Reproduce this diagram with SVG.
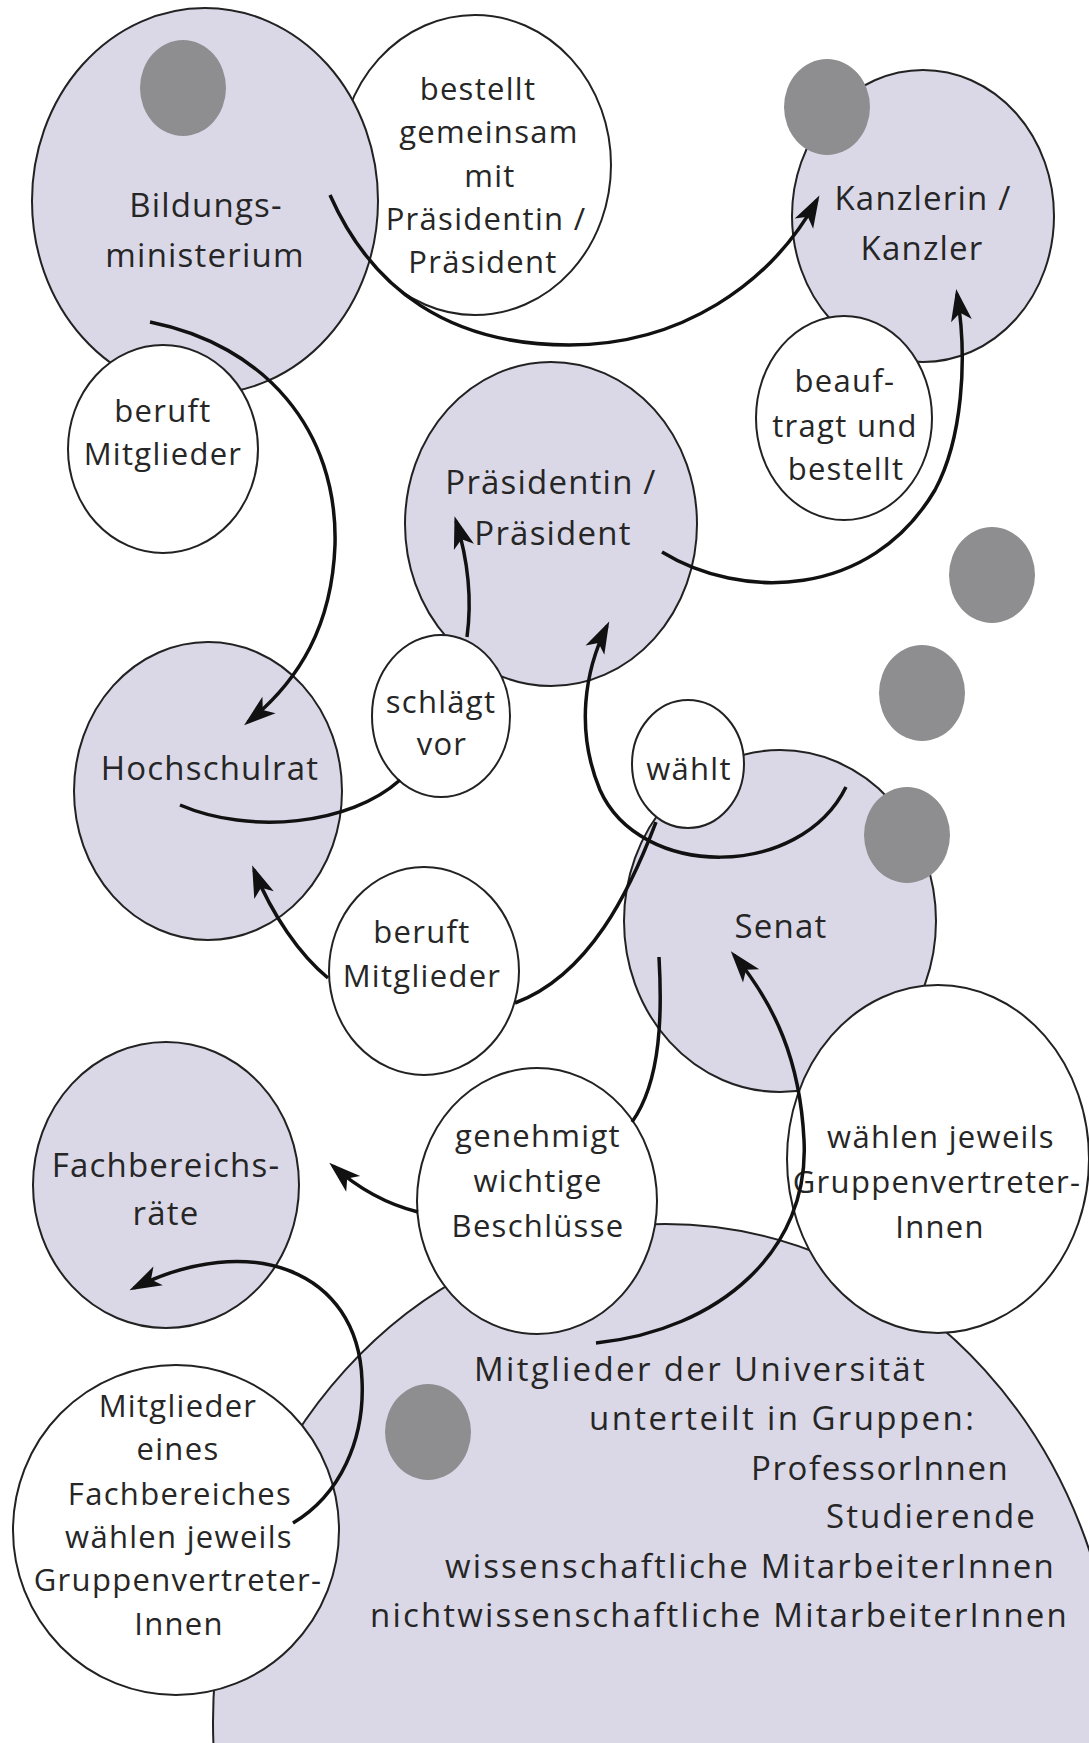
<svg xmlns="http://www.w3.org/2000/svg" width="1089" height="1743" viewBox="0 0 1089 1743">
<defs>
<style>
.g{fill:#dad8e7;stroke:#222;stroke-width:2}
.w{fill:#ffffff;stroke:#222;stroke-width:2}
.d{fill:#8e8e90}
.t{font-family:"Open Sans","Noto Sans",sans-serif;fill:#262626;text-anchor:middle}
.tg{font-size:33px;letter-spacing:1.2px}
.tw{font-size:31px;letter-spacing:1.3px}
.c{fill:none;stroke:#111;stroke-width:3.5}
</style>
<marker id="ah" markerUnits="userSpaceOnUse" markerWidth="40" markerHeight="30" viewBox="-30 -15 40 30" refX="0" refY="0" orient="auto">
<path d="M5,0 L-27,-10.5 L-19,0 L-27,10.5 Z" fill="#111"/>
</marker>
</defs>
<rect x="0" y="0" width="1089" height="1743" fill="#ffffff"/>

<g id="n-bestellt">
<ellipse class="w" cx="475" cy="165" rx="136" ry="150"/>
<text class="t tw" x="478" y="100">bestellt</text>
<text class="t tw" x="489" y="143">gemeinsam</text>
<text class="t tw" x="490" y="187">mit</text>
<text class="t tw" x="486" y="230">Präsidentin /</text>
<text class="t tw" x="483" y="273">Präsident</text>
</g>

<g id="n-bildungsministerium">
<ellipse class="g" cx="205" cy="201" rx="173" ry="193"/>
<ellipse class="d" cx="183" cy="88" rx="43" ry="48"/>
<text class="t tg" x="206" y="217">Bildungs-</text>
<text class="t tg" x="205" y="267">ministerium</text>
</g>

<g id="n-beruft-1">
<ellipse class="w" cx="163" cy="449" rx="95" ry="104"/>
<text class="t tw" x="163" y="422">beruft</text>
<text class="t tw" x="163" y="465">Mitglieder</text>
</g>

<g id="n-kanzler">
<ellipse class="g" cx="923" cy="216" rx="131" ry="146"/>
<ellipse class="d" cx="827" cy="107" rx="43" ry="48"/>
<text class="t tg" x="923" y="210">Kanzlerin /</text>
<text class="t tg" x="922" y="260">Kanzler</text>
</g>

<g id="n-beauftragt">
<ellipse class="w" cx="844" cy="418" rx="88" ry="102"/>
<text class="t tw" x="845" y="392">beauf-</text>
<text class="t tw" x="845" y="437">tragt und</text>
<text class="t tw" x="846" y="480">bestellt</text>
</g>

<g id="n-praesident">
<ellipse class="g" cx="551" cy="524" rx="146" ry="162"/>
<text class="t tg" x="551" y="494">Präsidentin /</text>
<text class="t tg" x="553" y="545">Präsident</text>
</g>

<g id="n-schlaegt">
<ellipse class="w" cx="441" cy="716" rx="69" ry="81"/>
<text class="t tw" x="441" y="713">schlägt</text>
<text class="t tw" x="442" y="755">vor</text>
</g>

<g id="n-hochschulrat">
<ellipse class="g" cx="208" cy="791" rx="134" ry="149"/>
<text class="t tg" x="210" y="780">Hochschulrat</text>
</g>

<g id="n-senat">
<ellipse class="g" cx="780" cy="921" rx="156" ry="171"/>
<text class="t tg" x="781" y="938">Senat</text>
</g>

<g id="n-waehlt">
<ellipse class="w" cx="688" cy="764" rx="56" ry="64"/>
<text class="t tw" x="689" y="780">wählt</text>
</g>

<g id="dots">
<ellipse class="d" cx="992" cy="575" rx="43" ry="48"/>
<ellipse class="d" cx="922" cy="693" rx="43" ry="48"/>
<ellipse class="d" cx="907" cy="835" rx="43" ry="48"/>
</g>

<g id="n-mitglieder-universitaet">
<ellipse class="g" cx="665" cy="1722" rx="452" ry="498"/>
<ellipse class="d" cx="428" cy="1432" rx="43" ry="48"/>
<text class="t tg" x="700" y="1381" textLength="452" lengthAdjust="spacing">Mitglieder der Universität</text>
<text class="t tg" x="782" y="1430" textLength="386" lengthAdjust="spacing">unterteilt in Gruppen:</text>
<text class="t tg" x="880" y="1480" textLength="258" lengthAdjust="spacing">ProfessorInnen</text>
<text class="t tg" x="931" y="1528" textLength="210" lengthAdjust="spacing">Studierende</text>
<text class="t tg" x="750" y="1578" textLength="610" lengthAdjust="spacing">wissenschaftliche MitarbeiterInnen</text>
<text class="t tg" x="719" y="1627" textLength="698" lengthAdjust="spacing">nichtwissenschaftliche MitarbeiterInnen</text>
</g>

<g id="n-genehmigt">
<ellipse class="w" cx="537" cy="1201" rx="120" ry="133"/>
<text class="t tw" x="538" y="1147">genehmigt</text>
<text class="t tw" x="538" y="1192">wichtige</text>
<text class="t tw" x="538" y="1237">Beschlüsse</text>
</g>

<g id="n-waehlen">
<ellipse class="w" cx="938" cy="1159" rx="151" ry="174"/>
<text class="t tw" x="941" y="1148">wählen jeweils</text>
<text class="t tw" x="937" y="1193">Gruppenvertreter-</text>
<text class="t tw" x="940" y="1238">Innen</text>
</g>

<g id="n-beruft-2">
<ellipse class="w" cx="424" cy="971" rx="95" ry="104"/>
<text class="t tw" x="422" y="943">beruft</text>
<text class="t tw" x="422" y="987">Mitglieder</text>
</g>

<g id="n-fachbereichsraete">
<ellipse class="g" cx="166" cy="1185" rx="133" ry="143"/>
<text class="t tg" x="166" y="1177">Fachbereichs-</text>
<text class="t tg" x="166" y="1225">räte</text>
</g>

<g id="n-mitglieder-fachbereich">
<ellipse class="w" cx="176" cy="1530" rx="163" ry="165"/>
<text class="t tw" x="178" y="1417">Mitglieder</text>
<text class="t tw" x="178" y="1460">eines</text>
<text class="t tw" x="180" y="1505">Fachbereiches</text>
<text class="t tw" x="179" y="1548">wählen jeweils</text>
<text class="t tw" x="178" y="1591">Gruppenvertreter-</text>
<text class="t tw" x="179" y="1635">Innen</text>
</g>

<g id="connectors">
<path class="c" d="M330,195 C372,290 450,345 569,345 C680,345 770,285 817,200" marker-end="url(#ah)"/>
<path class="c" d="M662,552 C740,600 870,600 935,490 C962,440 968,360 957,294" marker-end="url(#ah)"/>
<path class="c" d="M150,322 C265,345 338,430 335,545 C332,625 300,680 248,722" marker-end="url(#ah)"/>
<path class="c" d="M180,805 C250,835 350,825 400,780"/>
<path class="c" d="M467,637 C472,600 468,560 456,521" marker-end="url(#ah)"/>
<path class="c" d="M846,787 C800,880 640,880 600,790 C575,730 585,670 607,626" marker-end="url(#ah)"/>
<path class="c" d="M656,822 C630,890 590,975 515,1003"/>
<path class="c" d="M328,978 C300,955 272,915 254,870" marker-end="url(#ah)"/>
<path class="c" d="M659,957 C662,1010 662,1080 632,1122"/>
<path class="c" d="M418,1212 C390,1205 360,1190 333,1166" marker-end="url(#ah)"/>
<path class="c" d="M596,1343 C720,1330 810,1250 804,1140 C800,1060 775,1005 734,955" marker-end="url(#ah)"/>
<path class="c" d="M293,1523 C340,1495 365,1440 362,1380 C358,1270 250,1230 134,1288" marker-end="url(#ah)"/>
</g>
</svg>
